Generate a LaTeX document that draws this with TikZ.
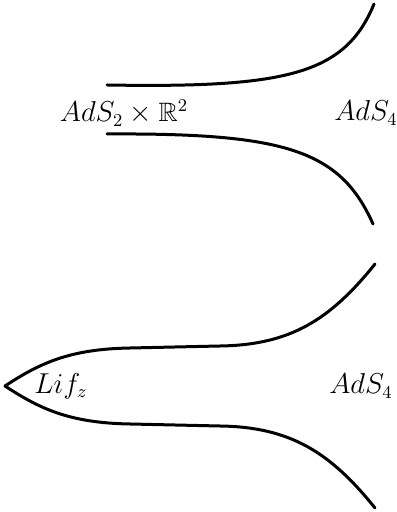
\documentclass[tikz,border=0pt]{standalone}
\usepackage{amsmath,amssymb}
\usepackage{tikz}
\usetikzlibrary{positioning}

\begin{document}
\begin{tikzpicture}[
  x=0.5pt, y=0.5pt,
  lbl/.style={font=\fontsize{13.3}{16}\selectfont, inner sep=0pt},
  wall/.style={line width=1.5pt, line cap=round}
]
\useasboundingbox (0,0) rectangle (396,512);
% upper sketch: AdS2 x R2 throat
\coordinate (ua) at (107,427);
\coordinate (ub) at (374,508);
\coordinate (la) at (107,378);
\coordinate (lb) at (373,288);
\node[lbl] (nh) at (124,399) {$AdS_2\times\mathbb{R}^2$};
\node[lbl] (bd) at (366,399) {$AdS_4$};
\draw[wall] (ua) .. controls (285,424) and (345,437) .. (ub);
\draw[wall] (la) .. controls (285,379) and (340,362) .. (lb);
% lower sketch: Lifshitz region
\coordinate (tip) at (5,126);
\coordinate (ue) at (375,248);
\coordinate (le) at (375,4);
\node[lbl] (lif) at (61,126) {$Lif_z$};
\node[lbl] (bd2) at (361,126) {$AdS_4$};
\draw[wall] (tip) .. controls (40,149) and (70,163) .. (130,164)
  -- (220,166) .. controls (290,167) and (330,192) .. (ue);
\draw[wall] (tip) .. controls (40,103) and (70,89) .. (130,88)
  -- (220,86) .. controls (290,85) and (330,60) .. (le);
\end{tikzpicture}
\end{document}
